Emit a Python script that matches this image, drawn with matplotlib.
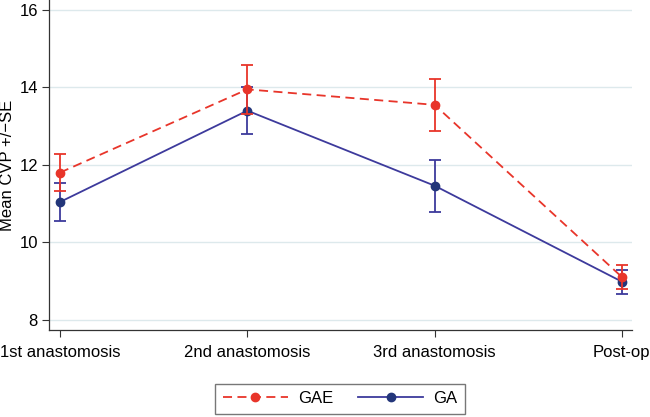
import matplotlib
matplotlib.use('Agg')
import matplotlib.pyplot as plt

plt.rcParams['font.family'] = ['Liberation Sans', 'DejaVu Sans']

# data
stages = ['1st anastomosis', '2nd anastomosis', '3rd anastomosis', 'Post-op']
gae_mean = [11.80, 13.95, 13.55, 9.10]
gae_se = [0.48, 0.63, 0.68, 0.30]
ga_mean = [11.04, 13.40, 11.46, 8.98]
ga_se = [0.48, 0.61, 0.67, 0.31]

red = '#e8352a'
navy_line = '#3d3a9c'
navy_mark = '#23367a'

fig = plt.figure(figsize=(6.5, 4.17), dpi=100)
ax = fig.add_axes([0.0754, 0.2086, 0.8966, 0.7914])

x = list(range(len(stages)))

ax.errorbar(x, gae_mean, yerr=gae_se, color=red, ls='--', lw=1.3,
            marker='o', ms=6, mfc=red, mec=red, capsize=4, elinewidth=1.3,
            capthick=1.3, dashes=(5, 3), label='GAE', zorder=3)
ax.errorbar(x, ga_mean, yerr=ga_se, color=navy_line, ls='-', lw=1.3,
            marker='o', ms=6, mfc=navy_mark, mec=navy_mark, capsize=4,
            elinewidth=1.3, capthick=1.3, label='GA', zorder=2)

ax.set_xlim(-0.059, 3.053)
ax.set_ylim(7.73, 16.26)
ax.set_yticks([8, 10, 12, 14, 16])
ax.set_xticks(x)
ax.set_xticklabels(stages)
ax.tick_params(axis='both', labelsize=12, length=5, width=0.8, color='#333333')
ax.tick_params(axis='x', pad=6)
ax.tick_params(axis='y', pad=3)
ax.set_ylabel('Mean CVP +/\u2212SE', fontsize=12, labelpad=3)

ax.grid(axis='y', color='#dde9ec', lw=1)
ax.set_axisbelow(True)
for s in ['top', 'right']:
    ax.spines[s].set_visible(False)
for s in ['left', 'bottom']:
    ax.spines[s].set_color('#333333')
    ax.spines[s].set_linewidth(0.9)

handles, labels = ax.get_legend_handles_labels()
handles = [h[0] for h in handles]
leg = fig.legend(handles, labels, ncol=2, loc='lower center',
                 bbox_to_anchor=(0.523, -0.012), fontsize=12, frameon=True,
                 fancybox=False, edgecolor='#555555', handlelength=3.9,
                 handletextpad=0.6, columnspacing=1.5, borderpad=0.45)
leg.get_frame().set_linewidth(1)

fig.savefig('out.png', dpi=100)
